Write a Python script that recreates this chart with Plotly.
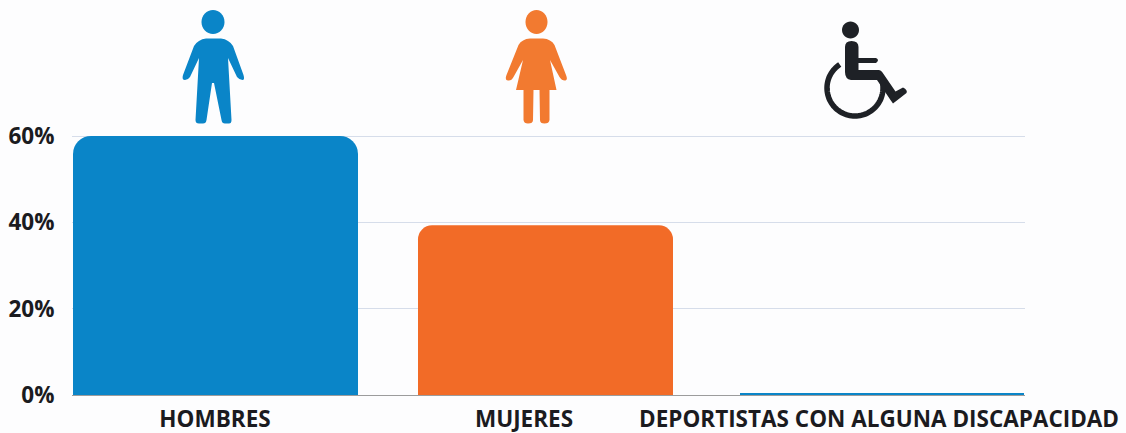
import re
import numpy as np
import plotly.graph_objects as go

categories = ["HOMBRES", "MUJERES", "DEPORTISTAS CON ALGUNA DISCAPACIDAD"]
values = [60, 39.3, 0.4]
y_ticks = [0, 20, 40, 60]
y_tick_labels = ["0%", "20%", "40%", "60%"]

# layout constants (x axis runs in the picture's own horizontal units)
bar_lefts = [73, 418, 740]
bar_rights = [358, 673, 1024]
label_positions = [215, 524, 879]
colors = ["#0A85C8", "#F26B27", "#0A85C8"]
radii = [18, 14, 0]
W, H = 1126, 433
L, R, T, B = 72, 101, 0, 38
BASE_PY = H - B
PX_PER_UNIT = (395 - 136) / 60
TEXT = "#1B1B1F"
FONT = "Open Sans"
FONT_SIZE = 22.5


def circle(cx, cy, rx, ry=None):
    ry = ry or rx
    k = 0.5523
    return (f"M {cx-rx} {cy} C {cx-rx} {cy-k*ry} {cx-k*rx} {cy-ry} {cx} {cy-ry} "
            f"C {cx+k*rx} {cy-ry} {cx+rx} {cy-k*ry} {cx+rx} {cy} "
            f"C {cx+rx} {cy+k*ry} {cx+k*rx} {cy+ry} {cx} {cy+ry} "
            f"C {cx-k*rx} {cy+ry} {cx-rx} {cy+k*ry} {cx-rx} {cy} Z")


def to_anchor(path, ax, ay):
    """Convert a picture-space SVG path to pixels relative to the anchor (y up)."""
    out, is_x = [], True
    for tok in re.findall(r"[A-Za-z]|-?\d+\.?\d*", path):
        if tok.isalpha():
            out.append(tok)
            is_x = True
        else:
            v = float(tok)
            out.append(f"{v-ax:.2f}" if is_x else f"{ay-v:.2f}")
            is_x = not is_x
    return " ".join(out)


def icon(path, color, fill=True, width=0):
    ax = 72.0
    return dict(
        type="path", layer="above",
        xref="x", yref="y",
        xsizemode="pixel", ysizemode="pixel",
        xanchor=ax, yanchor=0,
        path=to_anchor(path, ax, BASE_PY),
        fillcolor=color if fill else "rgba(0,0,0,0)",
        line=dict(color=color, width=width),
    )


man = (
    "M 206 38.5 Q 198 39.5 194 46 L 183 75 Q 181.5 80 185 80 Q 188 80 190 77 L 199 58 "
    "L 195.5 120 Q 195.5 123.5 199 123.5 L 203 123.5 Q 206 123.5 206.5 120 L 212 83 L 214 83 "
    "L 221.5 120 Q 222 123.5 225 123.5 L 229 123.5 Q 231.5 123.5 231.5 120 L 228 58 "
    "L 237 77 Q 239.5 80 242.5 80 Q 245 80 243.5 75 L 233 46 Q 229 39.5 221 38.5 Z"
)
woman = (
    "M 530 38.5 Q 522 39 518.5 45 L 506.5 75 Q 504.5 80.5 508 80.5 Q 511.5 81 513.5 77 L 523 60 "
    "L 516 90 L 523.5 90 L 523.5 120 Q 524 123.5 528 123.5 Q 533 123.5 533 120 L 533.5 90 "
    "L 539.5 90 L 540 120 Q 540 123.5 544.5 123.5 Q 549 123.5 549.5 120 L 549.5 90 L 556.5 90 "
    "L 550 60 L 559.5 77 Q 562 81 565.5 80.5 Q 568 80 566 75 L 554.5 45 Q 551 39 543 38.5 Z"
)
chair = (
    "M 845 47 Q 845 41 851.5 41 Q 858.5 41 858.5 47 L 858.5 58 L 876 58 "
    "Q 880 60 876 63 L 858.5 63 L 858.5 70 L 879 70 Q 881 70 882.5 72.5 L 895.5 91.5 "
    "L 903 87.5 Q 908 90 906.5 93 L 893 103.5 L 890.5 100 L 877 80 L 851 80 Q 845 79 845 72 Z"
)
arc = "M " + " L ".join(
    f"{855 + 28 * np.cos(t):.2f} {88 + 28 * np.sin(t):.2f}"
    for t in np.radians(np.linspace(-123, -370, 70))
)

shapes = [
    icon(circle(213, 22, 11.5, 12), "#0A85C8"),
    icon(man, "#0A85C8"),
    icon(circle(536.5, 22, 11, 12), "#F27A30"),
    icon(woman, "#F27A30"),
    icon(circle(850.5, 30, 8.5), "#1E2126"),
    icon(chair, "#1E2126"),
    icon(arc, "#1E2126", fill=False, width=5.5),
]

fig = go.Figure()
for name, v, x0, x1, c, r in zip(categories, values, bar_lefts, bar_rights, colors, radii):
    fig.add_trace(go.Bar(
        x=[(x0 + x1) / 2], y=[v], width=[x1 - x0], name=name,
        marker=dict(color=c, cornerradius=r, line=dict(width=0)),
        showlegend=False,
    ))

fig.update_layout(
    width=W, height=H,
    margin=dict(l=L, r=R, t=T, b=B, autoexpand=False),
    paper_bgcolor="#FDFDFE", plot_bgcolor="#FDFDFE",
    barmode="overlay", showlegend=False,
    font=dict(family=FONT, color=TEXT),
    shapes=shapes,
    xaxis=dict(
        range=[72, 1025], tickmode="array",
        tickvals=label_positions, ticktext=categories,
        tickfont=dict(family=FONT, size=FONT_SIZE, color=TEXT, weight="bold"),
        ticks="outside", ticklen=4, tickcolor="rgba(0,0,0,0)",
        showgrid=False, zeroline=False, showline=False,
    ),
    yaxis=dict(
        range=[0, BASE_PY / PX_PER_UNIT], tickmode="array",
        tickvals=y_ticks, ticktext=y_tick_labels,
        tickfont=dict(family=FONT, size=FONT_SIZE, color=TEXT, weight="bold"),
        ticks="outside", ticklen=12, tickcolor="rgba(0,0,0,0)",
        showgrid=True, gridcolor="#D6DDEA", gridwidth=1,
        zeroline=True, zerolinecolor="#9C9C9C", zerolinewidth=1, showline=False,
    ),
)

fig.write_html(
    "out.html",
    config={"displayModeBar": False},
    post_script="document.body.style.margin='0';document.body.style.background='#FDFDFE';",
)
